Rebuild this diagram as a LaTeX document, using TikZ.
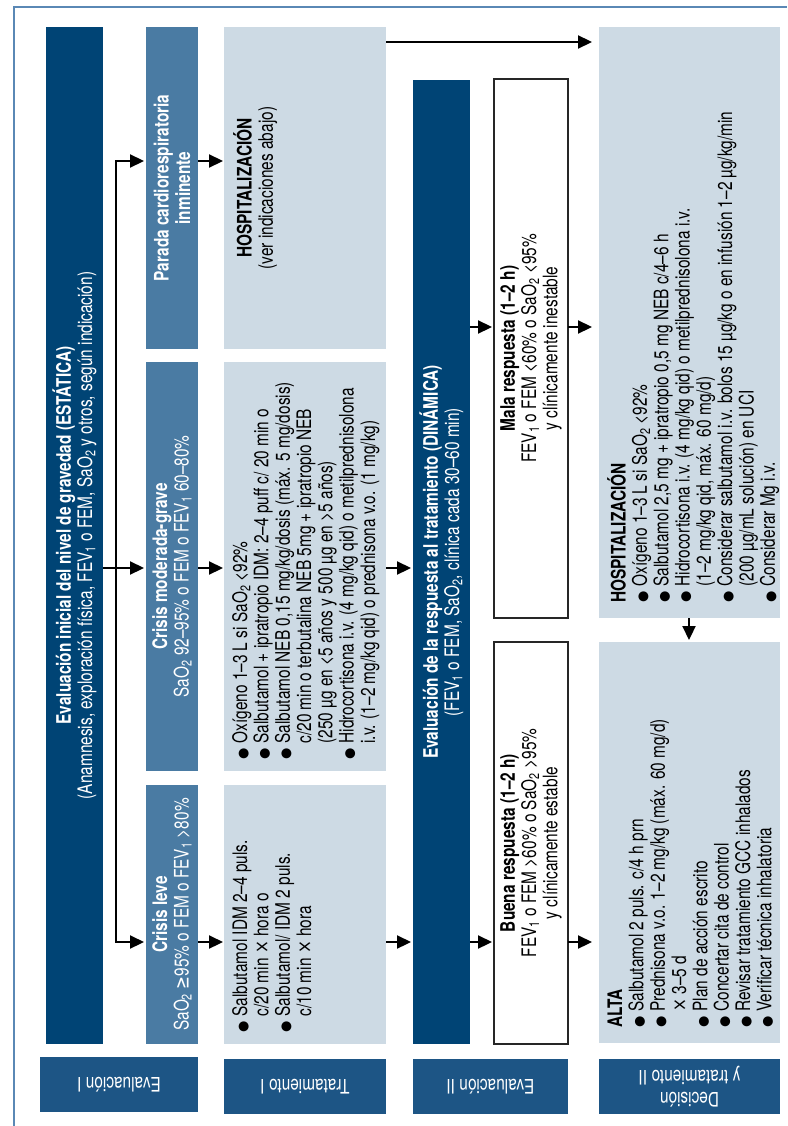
\documentclass[tikz,border=0pt]{standalone}
\usepackage{fontspec}
\setmainfont{TeX Gyre Heros}[FakeStretch=0.77]
\newfontfamily\symfont{DejaVu Sans}
\newfontfamily\symc{DejaVu Sans}[FakeStretch=0.77]
\usetikzlibrary{arrows.meta}

\definecolor{navy}{HTML}{004475}
\definecolor{steel}{HTML}{4A7BA3}
\definecolor{pale}{HTML}{CDDAE4}
\definecolor{tagblue}{HTML}{1D5585}
\definecolor{framec}{HTML}{5A88B5}

\newcommand{\fs}{\fontsize{20}{21.3}\selectfont}
\newcommand{\bul}{{\symfont\fontsize{13}{13}\selectfont ●}}
\newcommand{\geqs}{{\symc ≥}}
\newcommand{\tms}{{\symc ×}}
\newcommand{\sbs}[1]{\textsubscript{#1}}

\begin{document}
\begin{tikzpicture}[x=1pt,y=-1pt,>={Triangle[length=14pt,width=13pt]},
  box/.style={inner sep=0pt,outer sep=0pt,anchor=north west},
  navybox/.style={box,fill=navy},
  steelbox/.style={box,fill=steel},
  palebox/.style={box,fill=pale},
  tagbox/.style={box,fill=tagblue},
  whitebox/.style={box,fill=white,draw=black!85,line width=1.5pt},
  txt/.style={rotate=90,inner sep=0pt,align=center,font=\fs},
  wtxt/.style={txt,text=white},
  tagtxt/.style={rotate=180,inner sep=0pt,align=center,font=\fs,text=white},
  arr/.style={->,line width=2.2pt,shorten >=2pt}]
\useasboundingbox (0,0) rectangle (787,1126);
\draw[framec,line width=2pt] (14,1126) -- (14,7) -- (787,7);

% column 1: evaluacion I
\node[navybox,minimum width=57pt,minimum height=1017pt] (ei) at (46,27) {};
\node[wtxt] (eit) at (ei.center) {\textbf{Evaluación inicial del nivel de gravedad (ESTÁTICA)}\\
  (Anamnesis, exploración física, FEV\sbs{1} o FEM, SaO\sbs{2} y otros, según indicación)};

% crisis boxes
\node[steelbox,minimum width=52pt,minimum height=322pt] (pc) at (146,27) {};
\node[wtxt] (pct) at (pc.center) {\textbf{Parada cardiorespiratoria}\\\textbf{inminente}};
\node[steelbox,minimum width=52pt,minimum height=409pt] (cm) at (146,362) {};
\node[wtxt] (cmt) at (cm.center) {\textbf{Crisis moderada-grave}\\
  SaO\sbs{2} 92–95\% o FEM o FEV\sbs{1} 60–80\%};
\node[steelbox,minimum width=52pt,minimum height=259pt] (cl) at (146,785) {};
\node[wtxt] (clt) at (cl.center) {\textbf{Crisis leve}\\
  SaO\sbs{2} \geqs95\% o FEM o FEV\sbs{1} >80\%};

% treatment I
\node[palebox,minimum width=162pt,minimum height=322pt] (hs) at (224,27) {};
\node[txt,anchor=north] (hst) at ([xshift=9pt]hs.west) {\textbf{HOSPITALIZACIÓN}\\(ver indicaciones abajo)};
\node[palebox,minimum width=162pt,minimum height=409pt] (tm) at (224,362) {};
\node[txt,anchor=north west] (tmt) at ([xshift=8pt,yshift=11pt]tm.south west) {%
  \begin{tabular}{@{}l@{\hspace{5pt}}l@{}}
  \bul & Oxígeno 1–3 L si SaO\sbs{2} <92\%\\
  \bul & Salbutamol + ipratropio IDM: 2–4 puff c/ 20 min o\\
  \bul & Salbutamol NEB 0,15 mg/kg/dosis (máx. 5 mg/dosis)\\
       & c/20 min o terbutalina NEB 5mg + ipratropio NEB\\
       & (250 µg en <5 años y 500 µg en >5 años)\\
  \bul & Hidrocortisona i.v. (4 mg/kg qid) o metilprednisolona\\
       & i.v. (1–2 mg/kg qid) o prednisona v.o. (1 mg/kg)
  \end{tabular}};
\node[palebox,minimum width=162pt,minimum height=259pt] (tl) at (224,785) {};
\node[txt,anchor=north west] (tlt) at ([xshift=8pt,yshift=11pt]tl.south west) {%
  \begin{tabular}{@{}l@{\hspace{5pt}}l@{}}
  \bul & Salbutamol IDM 2–4 puls.\\
       & c/20 min \tms{} hora o\\
  \bul & Salbutamol/ IDM 2 puls.\\
       & c/10 min \tms{} hora
  \end{tabular}};

% evaluacion II
\node[navybox,minimum width=57pt,minimum height=964pt] (er) at (413,80) {};
\node[wtxt] (ert) at (er.center) {\textbf{Evaluación de la respuesta al tratamiento (DINÁMICA)}\\
  (FEV\sbs{1} o FEM, SaO\sbs{2}, clínica cada 30–60 min)};
\node[whitebox,minimum width=74pt,minimum height=539pt] (mr) at (494,79) {};
\node[txt] (mrt) at (mr.center) {\textbf{Mala respuesta (1–2 h)}\\
  FEV\sbs{1} o FEM <60\% o SaO\sbs{2} <95\%\\y clínicamente inestable};
\node[whitebox,minimum width=74pt,minimum height=402pt] (br) at (494,642) {};
\node[txt] (brt) at (br.center) {\textbf{Buena respuesta (1–2 h)}\\
  FEV\sbs{1} o FEM >60\% o SaO\sbs{2} >95\%\\y clínicamente estable};

% decision y tratamiento II
\node[palebox,minimum width=181pt,minimum height=591pt] (hb) at (599,27) {};
\node[txt,anchor=north west] (hbt) at ([xshift=8pt,yshift=15pt]hb.south west) {%
  \begin{tabular}{@{}l@{\hspace{5pt}}l@{}}
  \multicolumn{2}{@{}l@{}}{\textbf{HOSPITALIZACIÓN}}\\
  \bul & Oxígeno 1–3 L si SaO\sbs{2} <92\%\\
  \bul & Salbutamol 2,5 mg + ipratropio 0,5 mg NEB c/4–6 h\\
  \bul & Hidrocortisona i.v. (4 mg/kg qid) o metilprednisolona i.v.\\
       & (1–2 mg/kg qid, máx. 60 mg/d)\\
  \bul & Considerar salbutamol i.v. bolos 15 µg/kg o en infusión 1–2 µg/kg/min\\
       & (200 µg/mL solución) en UCI\\
  \bul & Considerar Mg i.v.
  \end{tabular}};
\node[palebox,minimum width=181pt,minimum height=401pt] (al) at (599,642) {};
\node[txt,anchor=north west] (alt) at ([xshift=8pt,yshift=15pt]al.south west) {%
  \begin{tabular}{@{}l@{\hspace{5pt}}l@{}}
  \multicolumn{2}{@{}l@{}}{\textbf{ALTA}}\\
  \bul & Salbutamol 2 puls. c/4 h prn\\
  \bul & Prednisona v.o. 1–2 mg/kg (máx. 60 mg/d)\\
       & \tms{} 3–5 d\\
  \bul & Plan de acción escrito\\
  \bul & Concertar cita de control\\
  \bul & Revisar tratamiento GCC inhalados\\
  \bul & Verificar técnica inhalatoria
  \end{tabular}};

% column tags
\node[tagbox,minimum width=158pt,minimum height=55pt] (t1) at (40,1057) {};
\node[tagtxt] (t1t) at (t1.center) {Evaluación I};
\node[tagbox,minimum width=162pt,minimum height=55pt] (t2) at (224,1059) {};
\node[tagtxt] (t2t) at (t2.center) {Tratamiento I};
\node[tagbox,minimum width=155pt,minimum height=55pt] (t3) at (413,1059) {};
\node[tagtxt] (t3t) at (t3.center) {Evaluación II};
\node[tagbox,minimum width=181pt,minimum height=55pt] (t4) at (599,1059) {};
\node[tagtxt] (t4t) at (t4.center) {Decisión\\y tratamiento II};

% rows for the arrows
\coordinate (r0) at (0,42);
\coordinate (r1) at (0,161);
\coordinate (r4) at (0,327);
\coordinate (r2) at (0,568);
\coordinate (r3) at (0,942);
\coordinate (bx) at (116,568);
\coordinate (dn) at (689,0);

\draw[arr] (ei.east |- r2) -- (cm.west |- r2);
\draw[arr] (bx) |- (pc.west |- r1);
\draw[arr] (bx) |- (cl.west |- r3);
\foreach \a/\b/\r in {pc/hs/r1, cm/tm/r2, cl/tl/r3}
  \draw[arr,shorten >=1pt] (\a.east |- \r) -- (\b.west |- \r);
\draw[arr] (tm.east |- r2) -- (er.west |- r2);
\draw[arr] (tl.east |- r3) -- (er.west |- r3);
\draw[arr] (er.east |- r4) -- (mr.west |- r4);
\draw[arr] (er.east |- r3) -- (br.west |- r3);
\draw[arr,shorten >=7pt] (hs.east |- r0) -- (hb.west |- r0);
\draw[arr,shorten >=7pt] (mr.east |- r4) -- (hb.west |- r4);
\draw[arr,shorten >=7pt] (br.east |- r3) -- (al.west |- r3);
\draw[arr] (hb.south -| dn) -- (al.north -| dn);
\end{tikzpicture}
\end{document}
